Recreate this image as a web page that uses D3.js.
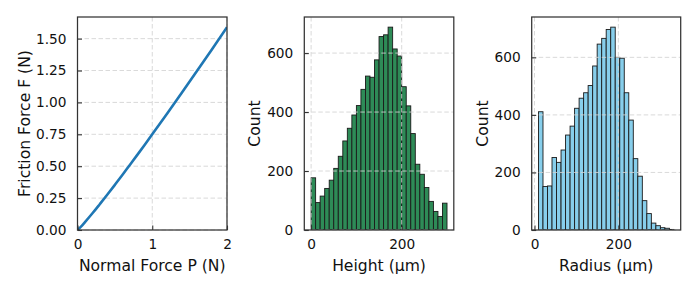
<!DOCTYPE html>
<html>
<head>
<meta charset="utf-8">
<script src="https://cdn.jsdelivr.net/npm/d3@7"></script>
<style>
  html, body { margin: 0; padding: 0; background: #fff; }
  svg { display: block; }
  text { font-family: "DejaVu Sans", sans-serif; fill: #111; }
</style>
</head>
<body>
<svg id="chart" width="698" height="291"></svg>
<script>
// ---- Data ----
const forceP =    [0, 0.05, 0.1, 0.2, 0.3, 0.4, 0.5, 0.6, 0.7, 0.8, 0.9, 1.0, 1.2, 1.4, 1.6, 1.8, 2.0];
const frictionF = [0, 0.029, 0.062, 0.131, 0.204, 0.278, 0.354, 0.431, 0.510, 0.589, 0.669, 0.75, 0.914, 1.080, 1.248, 1.417, 1.59];
const frictionTicksX = [0, 1, 2];
const frictionTicksY = [0, 0.25, 0.5, 0.75, 1.0, 1.25, 1.5];

const heightRange = [0, 300];
const heightCounts = [177, 93, 115, 141, 169, 209, 250, 302, 345, 390, 422, 477, 522, 518, 577, 656, 662, 688, 614, 590, 486, 421, 327, 223, 189, 144, 97, 63, 46, 91];

const radiusRange = [9.5, 332.6];
const radiusCounts = [411, 151, 153, 252, 235, 278, 330, 361, 423, 458, 477, 502, 570, 646, 666, 697, 705, 600, 597, 477, 382, 248, 187, 102, 57, 24, 15, 8, 6, 2];

const histTicksX = [0, 200];
const histTicksY = [0, 200, 400, 600];

// ---- Layout ----
const svg = d3.select("#chart");
const panels = [
  { left: 77.5, right: 227, top: 17, bottom: 230 },
  { left: 304.3, right: 453.8, top: 17, bottom: 230 },
  { left: 531.7, right: 680.7, top: 17, bottom: 230 }
];
const tickFont = 13.7, labelFont = 15.6;

function gridAndAxes(g, p, x, y, xt, yt, fmtY, xLabel, yLabel, yLabelX, drawContent) {
  // content first
  const clip = "clip" + Math.round(p.left);
  svg.append("defs").append("clipPath").attr("id", clip)
    .append("rect").attr("x", p.left).attr("y", p.top)
    .attr("width", p.right - p.left).attr("height", p.bottom - p.top);

  const gridG = g.append("g");
  const contentG = g.append("g").attr("clip-path", `url(#${clip})`);
  drawContent(contentG, gridG);

  // frame
  g.append("rect").attr("x", p.left).attr("y", p.top)
    .attr("width", p.right - p.left).attr("height", p.bottom - p.top)
    .attr("fill", "none").attr("stroke", "#333").attr("stroke-width", 1.25);

  // ticks (inside) and labels
  const xAxis = d3.axisBottom(x).tickValues(xt).tickSize(-4.5).tickPadding(9).tickFormat(d3.format("d"));
  const yAxis = d3.axisLeft(y).tickValues(yt).tickSize(-4.5).tickPadding(11).tickFormat(fmtY);
  const xa = g.append("g").attr("transform", `translate(0,${p.bottom})`).call(xAxis);
  const ya = g.append("g").attr("transform", `translate(${p.left},0)`).call(yAxis);
  [xa, ya].forEach(a => {
    a.select(".domain").remove();
    a.selectAll(".tick line").attr("stroke", "#333").attr("stroke-width", 1.1);
    a.selectAll(".tick text").attr("font-size", tickFont).attr("fill", "#111")
      .attr("font-family", "DejaVu Sans, sans-serif");
  });

  g.append("text").attr("x", (p.left + p.right) / 2).attr("y", 271)
    .attr("text-anchor", "middle").attr("font-size", labelFont).text(xLabel);
  g.append("text").attr("transform", `translate(${yLabelX},${(p.top + p.bottom) / 2}) rotate(-90)`)
    .attr("text-anchor", "middle").attr("font-size", labelFont).text(yLabel);
}

function drawGrid(gg, p, x, y, xt, yt) {
  const gs = { stroke: "#d4d4d4", width: 1, dash: "4.5,2.5" };
  xt.forEach(v => {
    gg.append("line").attr("x1", x(v)).attr("x2", x(v)).attr("y1", p.top).attr("y2", p.bottom)
      .attr("stroke", gs.stroke).attr("stroke-width", gs.width).attr("stroke-dasharray", gs.dash).attr("opacity", 0.85);
  });
  yt.forEach(v => {
    gg.append("line").attr("x1", p.left).attr("x2", p.right).attr("y1", y(v)).attr("y2", y(v))
      .attr("stroke", gs.stroke).attr("stroke-width", gs.width).attr("stroke-dasharray", gs.dash).attr("opacity", 0.85);
  });
}

// ---- Panel 1: friction vs normal force ----
{
  const p = panels[0];
  const x = d3.scaleLinear().domain([0, 2]).range([p.left, p.right]);
  const yMax = d3.max(frictionF) * 1.05;
  const y = d3.scaleLinear().domain([0, yMax]).range([p.bottom, p.top]);
  const g = svg.append("g");
  gridAndAxes(g, p, x, y, frictionTicksX, frictionTicksY, d3.format(".2f"),
    "Normal Force P (N)", "Friction Force F (N)", 30,
    (cg, gg) => {
      drawGrid(gg, p, x, y, frictionTicksX, frictionTicksY);
      const line = d3.line().x((d, i) => x(forceP[i])).y(d => y(d)).curve(d3.curveMonotoneX);
      cg.append("path").datum(frictionF).attr("d", line)
        .attr("fill", "none").attr("stroke", "#1f77b4").attr("stroke-width", 2.6);
    });
}

// ---- Histogram panels ----
function histPanel(p, range, counts, color, xLabel, yLabelX) {
  const span = range[1] - range[0];
  const x = d3.scaleLinear().domain([range[0] - 0.05 * span, range[1] + 0.05 * span]).range([p.left, p.right]);
  const y = d3.scaleLinear().domain([0, d3.max(counts) * 1.05]).range([p.bottom, p.top]);
  const edges = d3.range(counts.length + 1).map(i => range[0] + i * span / counts.length);
  const g = svg.append("g");
  gridAndAxes(g, p, x, y, histTicksX, histTicksY, d3.format("d"),
    xLabel, "Count", yLabelX,
    (cg, gg) => {
      cg.selectAll("rect.bar").data(counts).join("rect").attr("class", "bar")
        .attr("x", (d, i) => x(edges[i]))
        .attr("width", (d, i) => x(edges[i + 1]) - x(edges[i]))
        .attr("y", d => y(d))
        .attr("height", d => y(0) - y(d))
        .attr("fill", color).attr("stroke", "#1a1a1a").attr("stroke-width", 0.9);
      gg.raise();
      drawGrid(gg, p, x, y, histTicksX, histTicksY);
    });
}
histPanel(panels[1], heightRange, heightCounts, "#2e8b57", "Height (μm)", 260);
histPanel(panels[2], radiusRange, radiusCounts, "#87ceeb", "Radius (μm)", 488);
</script>
</body>
</html>
